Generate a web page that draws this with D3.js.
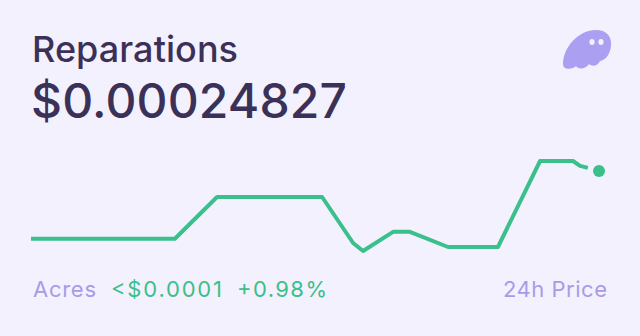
<!DOCTYPE html>
<html>
<head>
<meta charset="utf-8">
<script src="https://cdn.jsdelivr.net/npm/d3@7"></script>
<style>
  html, body { margin: 0; padding: 0; background: #f3f1fe; }
  svg { display: block; }
  text { font-family: "Inter", "Noto Sans", sans-serif; }
</style>
</head>
<body>
<svg id="card"></svg>
<script>
// 24h price series, hours since start -> price (USD)
const hours  = [0, 6.08, 7.86, 12.30, 13.61, 14.03, 15.30, 16.01, 17.62, 19.73, 21.51, 22.90, 23.20, 23.53]
const prices = [0.0002459, 0.0002459, 0.00024736, 0.00024736, 0.00024575, 0.00024547,
                0.00024614, 0.00024614, 0.00024561, 0.00024561, 0.00024862, 0.00024862,
                0.00024845, 0.00024838]
const current = {hour: 24, price: 0.00024827}

const tokenName = "Reparations"
const priceLabel = "$0.00024827"
const footLeft = ["Acres", "<$0.0001", "+0.98%"]
const footRight = "24h Price"

const width = 640, height = 336
const dark = "#3b3158", green = "#3bbf8b", lilac = "#a99be6"

const svg = d3.select("#card")
  .attr("width", width)
  .attr("height", height)

svg.append("rect")
  .attr("width", width).attr("height", height)
  .attr("fill", "#f3f1fe")

svg.append("text")
  .attr("x", 32).attr("y", 62)
  .attr("font-size", 36)
  .attr("font-weight", 500)
  .attr("textLength", 206)
  .attr("fill", dark)
  .text(tokenName)

svg.append("text")
  .attr("x", 31).attr("y", 118)
  .attr("font-size", 48)
  .attr("font-weight", 500)
  .attr("textLength", 316)
  .attr("fill", dark)
  .text(priceLabel)

// ghost mark, top right
let ghost = svg.append("g")
ghost.append("path")
  .attr("d", "M563,64 C563,48 578,30 596,30 C606,30 612,36 611,46 C610,54 606,60 600,61 " +
             "C598,66 592,67 589,64 C586,69 578,70 576,66 C572,70 563,70 563,64 Z")
  .attr("fill", "#ab9ff2")
ghost.selectAll("ellipse")
  .data([592, 601]).enter()
  .append("ellipse")
  .attr("cx", d => d).attr("cy", 42)
  .attr("rx", 2.6).attr("ry", 3)
  .attr("fill", "#f3f1fe")

let x = d3.scaleLinear().domain([0, 24]).range([31, 599])
let y = d3.scaleLinear()
  .domain([d3.min(prices), d3.max(prices)])
  .range([251, 161])

let line = d3.line()
  .x((d, i) => x(hours[i]))
  .y(d => y(d))

svg.append("path")
  .datum(prices)
  .attr("d", line)
  .attr("fill", "none")
  .attr("stroke", green)
  .attr("stroke-width", 4)
  .attr("stroke-linejoin", "round")

svg.append("circle")
  .attr("cx", x(current.hour))
  .attr("cy", y(current.price))
  .attr("r", 6)
  .attr("fill", green)

let foot = svg.append("g").attr("font-size", 22)
let fx = [33, 111, 237]
let fw = [63, 111, 90]
foot.selectAll("text")
  .data(footLeft).enter()
  .append("text")
  .attr("x", (d, i) => fx[i])
  .attr("y", 297)
  .attr("textLength", (d, i) => fw[i])
  .attr("fill", (d, i) => i == 0 ? lilac : green)
  .text(d => d)

foot.append("text")
  .attr("x", 503).attr("y", 297)
  .attr("textLength", 104)
  .attr("fill", lilac)
  .text(footRight)
</script>
</body>
</html>
